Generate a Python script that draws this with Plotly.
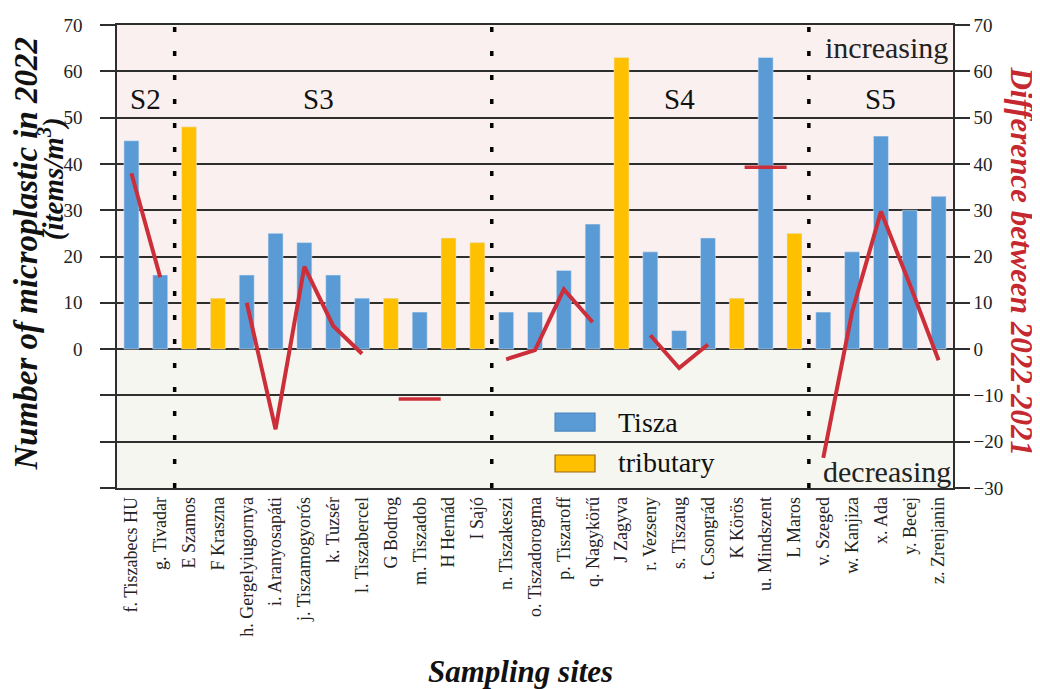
import plotly.graph_objects as go

# ---------------- data ----------------
sites = ["f. Tiszabecs HU", "g. Tivadar", "E Szamos", "F Kraszna", "h. Gergelyiugornya",
         "i. Aranyosapáti", "j. Tiszamogyorós", "k. Tuzsér", "l. Tiszabercel", "G Bodrog",
         "m. Tiszadob", "H Hernád", "I Sajó", "n. Tiszakeszi", "o. Tiszadorogma",
         "p. Tiszaroff", "q. Nagykörű", "J Zagyva", "r. Vezseny", "s. Tiszaug",
         "t. Csongrád", "K Körös", "u. Mindszent", "L Maros", "v. Szeged",
         "w. Kanjiza", "x. Ada", "y. Becej", "z. Zrenjanin"]
kind = ["Tisza", "Tisza", "tributary", "tributary", "Tisza",
        "Tisza", "Tisza", "Tisza", "Tisza", "tributary",
        "Tisza", "tributary", "tributary", "Tisza", "Tisza",
        "Tisza", "Tisza", "tributary", "Tisza", "Tisza",
        "Tisza", "tributary", "Tisza", "tributary", "Tisza",
        "Tisza", "Tisza", "Tisza", "Tisza"]
mp2022 = [45, 16, 48, 11, 16,
          25, 23, 16, 11, 11,
          8, 24, 23, 8, 8,
          17, 27, 63, 21, 4,
          24, 11, 63, 25, 8,
          21, 46, 30, 33]
diff = [38, 15.5, None, None, 10,
        -17.3, 17.8, 5, -1, None,
        -10.8, None, None, -2.2, -0.2,
        12.9, 5.8, None, 3, -4.1,
        1, None, 39.3, None, -23.5,
        8, 29.7, 14, -2.4]
sections = ["S2", "S3", "S4", "S5"]
section_first = ["f. Tiszabecs HU", "E Szamos", "n. Tiszakeszi", "v. Szeged"]
tick_vals = [-30, -20, -10, 0, 10, 20, 30, 40, 50, 60, 70]
left_tick_text = ["" if v < 0 else str(v) for v in tick_vals]

# ---------------- style ----------------
FONT = "Liberation Serif"
BLUE = "#5b9bd5"
YELLOW = "#ffc000"
RED = "#cc2f3a"
TITLE_RED = "#c5282f"
DARK = "#2e2e2e"

tisza_y = [v if k == "Tisza" else None for v, k in zip(mp2022, kind)]
trib_y = [v if k == "tributary" else None for v, k in zip(mp2022, kind)]

n = len(diff)
isolated = []
for i, v in enumerate(diff):
    prev_none = i == 0 or diff[i - 1] is None
    next_none = i == n - 1 or diff[i + 1] is None
    isolated.append(v is not None and prev_none and next_none)

fig = go.Figure()
fig.add_trace(go.Bar(x=sites, y=tisza_y, name="Tisza", marker_color=BLUE,
                     width=0.52, showlegend=False))
fig.add_trace(go.Bar(x=sites, y=trib_y, name="tributary", marker_color=YELLOW,
                     width=0.52, showlegend=False))
fig.add_trace(go.Scatter(
    x=sites, y=diff, yaxis="y2", mode="lines+markers", connectgaps=False,
    line=dict(color=RED, width=4),
    marker=dict(symbol="line-ew", size=[30 if s else 0 for s in isolated], opacity=1,
                color=RED, line=dict(color=RED, width=3.5)),
    showlegend=False, name="Difference"))

shapes = [
    dict(type="rect", xref="paper", yref="y", x0=0, x1=1, y0=0, y1=70,
         fillcolor="#f9f0ef", line_width=0, layer="below"),
    dict(type="rect", xref="paper", yref="y", x0=0, x1=1, y0=-30, y1=0,
         fillcolor="#f6f6f0", line_width=0, layer="below"),
]
sec_idx = [sites.index(s) for s in section_first]
for idx in sec_idx[1:]:
    shapes.append(dict(type="line", xref="x", yref="y", x0=idx - 0.5, x1=idx - 0.5,
                       y0=-30, y1=70, line=dict(color="black", width=3.5, dash="5px,19px"),
                       layer="above"))

# legend (drawn as boxes + text)
leg = [("Tisza", BLUE, "#4a86bf", 0.162, 0.123, 0.1425),
       ("tributary", YELLOW, "#9c6a10", 0.0713, 0.0346, 0.054)]
annotations = []
for name, fc, lc, ytop, ybot, ytxt in leg:
    shapes.append(dict(type="rect", xref="paper", yref="paper", x0=0.524, x1=0.5718,
                       y0=ybot, y1=ytop, fillcolor=fc, line=dict(color=lc, width=1.2),
                       layer="above"))
    annotations.append(dict(xref="paper", yref="paper", x=0.597, y=ytxt, text=name,
                            showarrow=False, xanchor="left", yanchor="middle",
                            font=dict(family=FONT, size=28, color="#111")))

# section labels
sec_x = [0.5, 6.5, 19.0, 26.0]
for name, xp in zip(sections, sec_x):
    annotations.append(dict(xref="x", yref="y", x=xp, y=54, text=name, showarrow=False,
                            font=dict(family=FONT, size=29, color="#111")))
annotations += [
    dict(xref="x", yref="y", x=26.2, y=65.2, text="increasing", showarrow=False,
         font=dict(family=FONT, size=30, color="#222")),
    dict(xref="x", yref="y", x=26.2, y=-26.4, text="decreasing", showarrow=False,
         font=dict(family=FONT, size=30, color="#222")),
    # axis titles
    dict(xref="paper", yref="paper", x=-0.1085, y=0.507, xanchor="center", yanchor="middle",
         text="<b><i>Number of microplastic in 2022</i></b>", textangle=-90, showarrow=False,
         font=dict(family=FONT, size=33, color="#111")),
    dict(xref="paper", yref="paper", x=-0.0790, y=0.669, xanchor="center", yanchor="middle",
         text="<b><i>(items/m<sup>3</sup>)</i></b>", textangle=-90, showarrow=False,
         font=dict(family=FONT, size=29, color="#111")),
    dict(xref="paper", yref="paper", x=1.0815, y=0.489, xanchor="center", yanchor="middle",
         text="<b><i>Difference between 2022-2021</i></b>", textangle=90, showarrow=False,
         font=dict(family=FONT, size=31, color=TITLE_RED)),
    dict(xref="paper", yref="paper", x=0.483, y=-0.397, xanchor="center", yanchor="middle",
         text="<b><i>Sampling sites</i></b>", showarrow=False,
         font=dict(family=FONT, size=31, color="#111")),
]

fig.update_layout(
    width=1040, height=689,
    margin=dict(l=109, r=95, t=17, b=209),
    paper_bgcolor="white", plot_bgcolor="white",
    barmode="overlay", bargap=0.48,
    font=dict(family=FONT, color="#222"),
    shapes=shapes, annotations=annotations,
    xaxis=dict(type="category", tickangle=-90, tickfont=dict(family=FONT, size=18, color="#222"),
               showline=True, mirror=True, linecolor=DARK, linewidth=1.6,
               ticks="", showgrid=False, automargin=False, range=[-0.5, len(sites) - 0.5]),
    yaxis=dict(range=[-30, 70], tickvals=tick_vals, ticktext=left_tick_text,
               ticks="outside", ticklen=15, tickwidth=1.6, tickcolor=DARK,
               ticklabelstandoff=14,
               showline=True, linecolor=DARK, linewidth=1.6,
               showgrid=True, gridcolor=DARK, gridwidth=1.5, zeroline=False,
               tickfont=dict(family=FONT, size=19, color="#222"), automargin=False),
    yaxis2=dict(range=[-30, 70], tickvals=tick_vals, overlaying="y", side="right",
                ticks="outside", ticklen=15, tickwidth=1.6, tickcolor=DARK,
                showline=True, linecolor=DARK, linewidth=1.6,
                showgrid=False, zeroline=False,
                tickfont=dict(family=FONT, size=19, color="#222"), automargin=False),
)

fig.write_html("out.html")
